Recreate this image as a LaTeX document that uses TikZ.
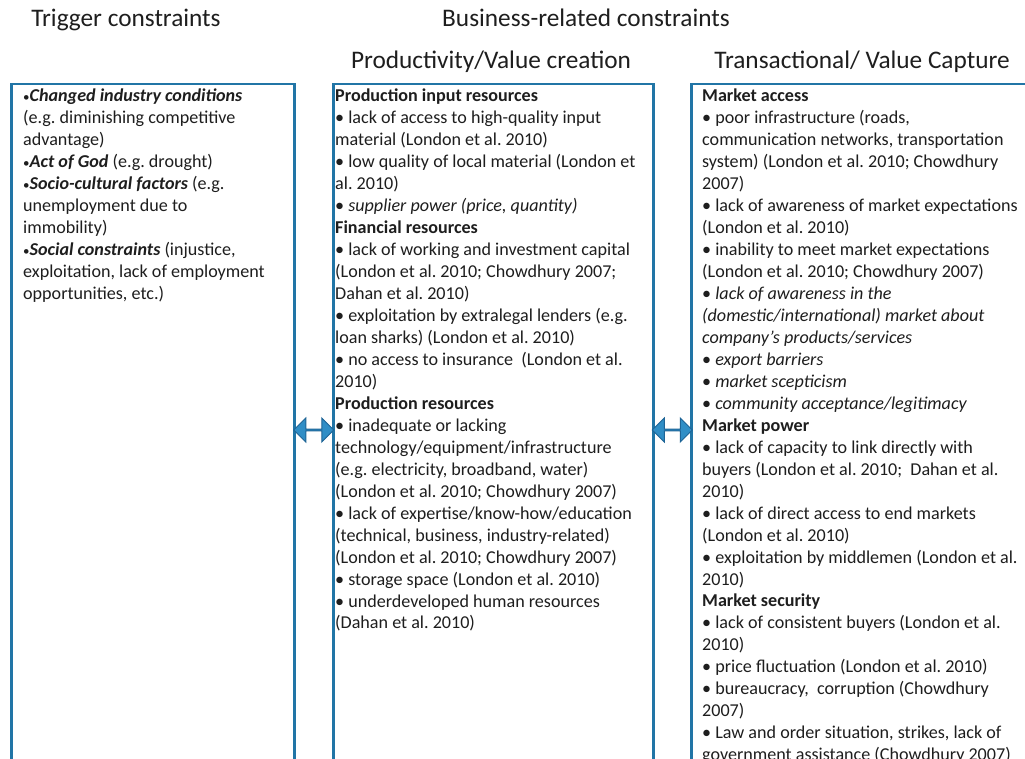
\documentclass[tikz,border=0pt]{standalone}
\usepackage{fontspec}
\setmainfont{Carlito}
\usetikzlibrary{shapes.arrows,calc}
\definecolor{boxblue}{RGB}{33,117,166}
\definecolor{arrowfill}{RGB}{48,142,198}
\definecolor{arrowline}{RGB}{30,100,150}
\definecolor{ink}{RGB}{30,30,30}
\newcommand{\smallbul}{{\fontsize{13pt}{13pt}\selectfont•}}
\tikzset{
  box/.style={draw=boxblue, line width=2.5pt, anchor=north west, inner sep=0pt},
  boxtext/.style={anchor=north west, align=left, inner sep=0pt, text=ink,
    font=\fontsize{18.1pt}{21.96pt}\selectfont\frenchspacing},
  headtext/.style={anchor=base, inner sep=0pt, text=ink,
    font=\fontsize{25.3pt}{30pt}\selectfont},
  dblarrow/.style={double arrow, fill=arrowfill, draw=arrowline, line width=1pt,
    minimum height=40pt, minimum width=24pt, double arrow head extend=7pt, inner sep=0pt}
}
\begin{document}
\begin{tikzpicture}[x=1pt,y=-1pt]
  \clip (0,0) rectangle (1025,759);
  \fill[white] (0,0) rectangle (1025,759);
  % column headings
  \node[headtext] (trighead) at (126,27) {Trigger constraints};
  \node[headtext] (bushead) at (586,27) {Business-related constraints};
  \node[headtext] (prodhead) at (491,69) {Productivity/Value creation};
  \node[headtext] (transhead) at (862,69) {Transactional/ Value Capture};
  % the three boxes
  \node[box, minimum width=283pt, minimum height=720pt] (trig) at (10,83) {};
  \node[box, minimum width=320pt, minimum height=720pt] (prod) at (332,83) {};
  \node[box, minimum width=350pt, minimum height=720pt] (trans) at (690,83) {};
  % trigger constraints
  \node[boxtext] (trigtext) at (23,89) {%
    \smallbul\textbf{\textit{Changed industry conditions}}\\
    (e.g. diminishing competitive\\
    advantage)\\
    \smallbul\textbf{\textit{Act of God}} (e.g. drought)\\
    \smallbul\textbf{\textit{Socio-cultural factors}} (e.g.\\
    unemployment due to\\
    immobility)\\
    \smallbul\textbf{\textit{Social constraints}} (injustice,\\
    exploitation, lack of employment\\
    opportunities, etc.)};
  % productivity / value creation
  \node[boxtext] (prodtext) at (335,89) {%
    \textbf{Production input resources}\\
    • lack of access to high-quality input\\
    material (London et al. 2010)\\
    • low quality of local material (London et\\
    al. 2010)\\
    • \textit{supplier power (price, quantity)}\\
    \textbf{Financial resources}\\
    • lack of working and investment capital\\
    (London et al. 2010; Chowdhury 2007;\\
    Dahan et al. 2010)\\
    • exploitation by extralegal lenders (e.g.\\
    loan sharks) (London et al. 2010)\\
    • no access to insurance\ \ (London et al.\\
    2010)\\
    \textbf{Production resources}\\
    • inadequate or lacking\\
    technology/equipment/infrastructure\\
    (e.g. electricity, broadband, water)\\
    (London et al. 2010; Chowdhury 2007)\\
    • lack of expertise/know-how/education\\
    (technical, business, industry-related)\\
    (London et al. 2010; Chowdhury 2007)\\
    • storage space (London et al. 2010)\\
    • underdeveloped human resources\\
    (Dahan et al. 2010)};
  % transactional / value capture
  \node[boxtext] (transtext) at (702,89) {%
    \textbf{Market access}\\
    • poor infrastructure (roads,\\
    communication networks, transportation\\
    system) (London et al. 2010; Chowdhury\\
    2007)\\
    • lack of awareness of market expectations\\
    (London et al. 2010)\\
    • inability to meet market expectations\\
    (London et al. 2010; Chowdhury 2007)\\
    • \textit{lack of awareness in the}\\
    \textit{(domestic/international) market about}\\
    \textit{company’s products/services}\\
    • \textit{export barriers}\\
    • \textit{market scepticism}\\
    • \textit{community acceptance/legitimacy}\\
    \textbf{Market power}\\
    • lack of capacity to link directly with\\
    buyers (London et al. 2010;\ \ Dahan et al.\\
    2010)\\
    • lack of direct access to end markets\\
    (London et al. 2010)\\
    • exploitation by middlemen (London et al.\\
    2010)\\
    \textbf{Market security}\\
    • lack of consistent buyers (London et al.\\
    2010)\\
    • price fluctuation (London et al. 2010)\\
    • bureaucracy,\ \ corruption (Chowdhury\\
    2007)\\
    • Law and order situation, strikes, lack of\\
    government assistance (Chowdhury 2007)};
  % links between the columns
  \coordinate (ylink) at (0,430);
  \node[dblarrow] (linkA) at ($(trig.east |- ylink)!0.5!(prod.west |- ylink)$) {};
  \node[dblarrow] (linkB) at ($(prod.east |- ylink)!0.5!(trans.west |- ylink)$) {};
\end{tikzpicture}
\end{document}
